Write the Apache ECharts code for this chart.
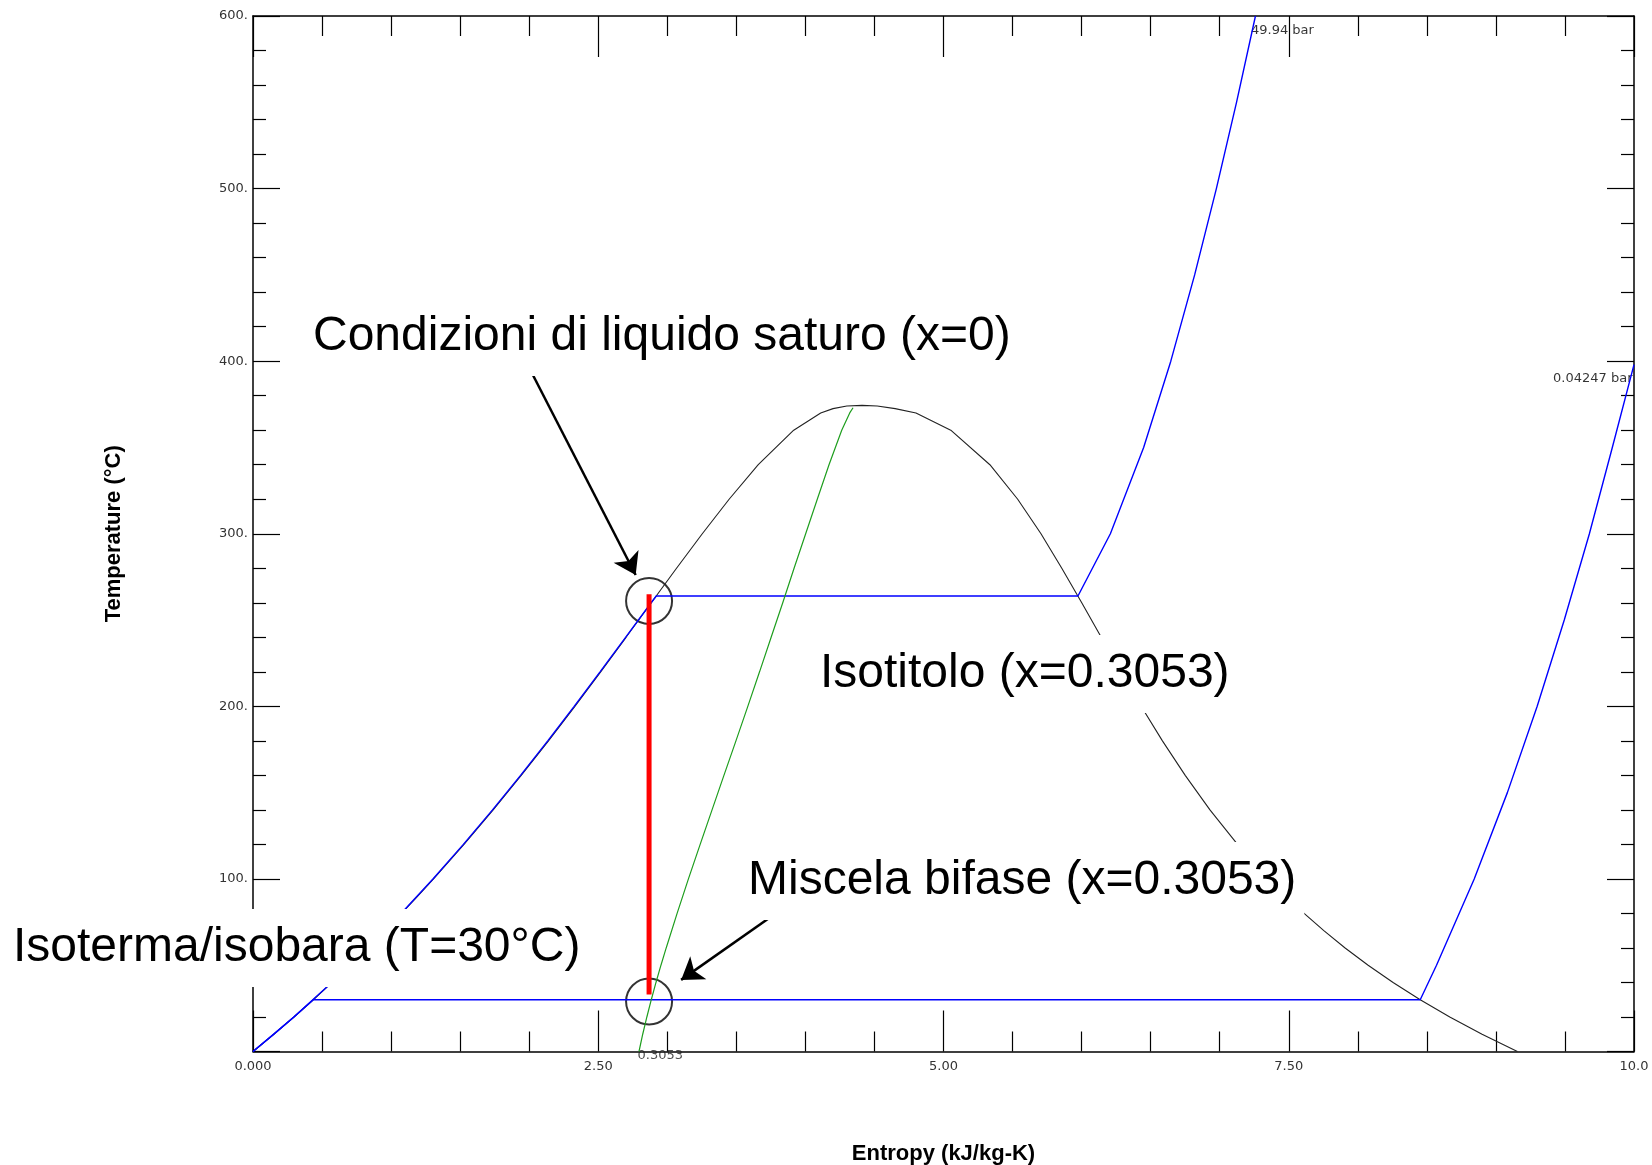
<!DOCTYPE html>
<html>
<head>
<meta charset="utf-8">
<title>Diagramma T-s acqua</title>
<script src="https://cdn.jsdelivr.net/npm/echarts@6/dist/echarts.min.js"></script>
<style>
  html, body { margin: 0; padding: 0; background: #fff; }
  #chart { width: 1652px; height: 1165px; }
</style>
</head>
<body>
<div id="chart"></div>
<script>
// curva limite: liquido saturo -> punto critico -> vapore saturo
var domeS = [0, 0.1511, 0.2965, 0.4368, 0.5724, 0.7038, 0.8313, 0.9551, 1.0756, 1.1929, 1.3072, 1.5279, 1.7392, 1.9421, 2.1397, 2.3308, 2.5175, 2.7013, 2.8838, 3.0668, 3.2534, 3.4476, 3.6587, 3.9153, 4.1108, 4.20, 4.30, 4.41, 4.52, 4.65, 4.8007, 5.0526, 5.3359, 5.5373, 5.7059, 5.8565, 6.0010, 6.1423, 6.2847, 6.4312, 6.5853, 6.7503, 6.9294, 7.1291, 7.3541, 7.4781, 7.6111, 7.7540, 7.9081, 8.0748, 8.2555, 8.4520, 8.6660, 8.8998, 9.1555];
var domeT = [0, 10, 20, 30, 40, 50, 60, 70, 80, 90, 100, 120, 140, 160, 180, 200, 220, 240, 260, 280, 300, 320, 340, 360, 370, 372.5, 374, 374.4, 374, 372.5, 370, 360, 340, 320, 300, 280, 260, 240, 220, 200, 180, 160, 140, 120, 100, 90, 80, 70, 60, 50, 40, 30, 20, 10, 0];

// isobara 49.94 bar
var hiPS = [0, 0.2956, 0.5705, 0.8287, 1.0723, 1.3030, 1.5233, 1.7343, 1.9375, 2.1341, 2.3255, 2.5128, 2.6979, 2.8830, 2.9202, 5.9737, 6.2084, 6.4493, 6.6459, 6.8186, 6.9759, 7.1218, 7.2589];
var hiPT = [0, 20, 40, 60, 80, 100, 120, 140, 160, 180, 200, 220, 240, 260, 263.94, 263.94, 300, 350, 400, 450, 500, 550, 600];

// isobara 0.04247 bar (T = 30 C)
var loPS = [0, 0.1511, 0.2965, 0.4368, 8.4520, 8.570, 8.843, 9.083, 9.299, 9.495, 9.677, 9.843, 10.0];
var loPT = [0, 10, 20, 30, 30, 50, 100, 150, 200, 250, 300, 350, 398];

// isotitolo x = 0.3053
var qualS = [2.795, 2.822, 2.852, 2.884, 2.918, 2.954, 2.992, 3.071, 3.153, 3.238, 3.324, 3.410, 3.497, 3.583, 3.668, 3.752, 3.836, 3.918, 4.002, 4.086, 4.171, 4.263, 4.321, 4.345];
var qualT = [0, 10, 20, 30, 40, 50, 60, 80, 100, 120, 140, 160, 180, 200, 220, 240, 260, 280, 300, 320, 340, 360, 370, 373];

// espansione isoentropica
var expS = [2.868, 2.868];
var expT = [33, 265];

// cerchi sui due stati
var stateS = [2.868, 2.868];
var stateT = [261, 29];

// frecce [s0, T0, s1, T1]
var arrows = [
  [1.997, 396.6, 2.771, 276.1],
  [3.774, 79.4, 3.10, 41.5]
];

var xTickLabels = ['0.000', '2.50', '5.00', '7.50', '10.0'];
var yTickLabels = ['', '100.', '200.', '300.', '400.', '500.', '600.'];

function xy(xs, ys) {
  var out = [];
  for (var i = 0; i < xs.length; i++) out.push([xs[i], ys[i]]);
  return out;
}

var chart = echarts.init(document.getElementById('chart'));

var fam = '"Liberation Sans", Arial, sans-serif';
var smallFam = '"DejaVu Sans", sans-serif';
var bigFont = '48px ' + fam;

function xAxisCfg(pos) {
  return {
    type: 'value', position: pos, min: 0, max: 10, interval: 2.5,
    axisLine: { show: true, onZero: false, lineStyle: { color: '#000', width: 1.5 } },
    axisTick: { show: true, inside: true, length: 41, lineStyle: { color: '#000', width: 1.2 } },
    minorTick: { show: true, splitNumber: 5, length: 20, lineStyle: { color: '#000', width: 1.2 } },
    axisLabel: {
      show: pos === 'bottom', margin: 9, fontSize: 13, fontFamily: smallFam, color: '#333',
      formatter: function (v) { return xTickLabels[Math.round(v / 2.5)]; }
    },
    splitLine: { show: false }
  };
}

function yAxisCfg(pos) {
  return {
    type: 'value', position: pos, min: 0, max: 600, interval: 100,
    axisLine: { show: true, onZero: false, lineStyle: { color: '#000', width: 1.5 } },
    axisTick: { show: true, inside: true, length: 27, lineStyle: { color: '#000', width: 1.2 } },
    minorTick: { show: true, splitNumber: 5, length: 13, lineStyle: { color: '#000', width: 1.2 } },
    axisLabel: {
      show: pos === 'left', margin: 5, fontSize: 13, fontFamily: smallFam, color: '#333',
      formatter: function (v) { return yTickLabels[Math.round(v / 100)]; }
    },
    splitLine: { show: false }
  };
}

function textBox(text, x, y) {
  return {
    type: 'text', x: x, y: y, z: 100,
    style: {
      text: text, font: bigFont, fill: '#000', align: 'left', verticalAlign: 'middle',
      backgroundColor: '#fff', padding: [16, 8, 14, 8]
    }
  };
}

var xBottom = xAxisCfg('bottom');
xBottom.name = 'Entropy (kJ/kg-K)';
xBottom.nameLocation = 'middle';
xBottom.nameGap = 91;
xBottom.nameTextStyle = { fontFamily: fam, fontSize: 22, fontWeight: 'bold', color: '#000' };

var yLeft = yAxisCfg('left');
yLeft.name = 'Temperature (°C)';
yLeft.nameLocation = 'middle';
yLeft.nameRotate = 90;
yLeft.nameGap = 128;
yLeft.nameTextStyle = { fontFamily: fam, fontSize: 22, fontWeight: 'bold', color: '#000' };

var hiEnd = [hiPS[hiPS.length - 1], hiPT[hiPT.length - 1]];
var loEnd = [loPS[loPS.length - 1], loPT[loPT.length - 1]];
var qualStart = [qualS[0], qualT[0]];

var option = {
  animation: false,
  backgroundColor: '#fff',
  grid: { left: 253, right: 18, top: 16, bottom: 113.5, outerBoundsMode: 'none' },
  xAxis: [xBottom, xAxisCfg('top')],
  yAxis: [yLeft, yAxisCfg('right')],
  series: [
    {
      name: 'curva limite', type: 'line', data: xy(domeS, domeT),
      symbol: 'none', lineStyle: { color: '#222', width: 1.1 }, silent: true
    },
    {
      name: '49.94 bar', type: 'line', data: xy(hiPS, hiPT),
      symbol: 'none', lineStyle: { color: '#0000ff', width: 1.4 }, silent: true
    },
    {
      name: '0.04247 bar', type: 'line', data: xy(loPS, loPT),
      symbol: 'none', lineStyle: { color: '#0000ff', width: 1.4 }, silent: true
    },
    {
      name: 'x=0.3053', type: 'line', data: xy(qualS, qualT),
      symbol: 'none', lineStyle: { color: '#1e9e1e', width: 1.2 }, silent: true
    },
    {
      name: 'espansione', type: 'line', data: xy(expS, expT),
      symbol: 'none', lineStyle: { color: '#ff0000', width: 5 }, silent: true,
      markLine: {
        silent: true,
        symbol: ['none', 'arrow'],
        symbolSize: 21,
        label: { show: false },
        lineStyle: { color: '#000', width: 2.5, type: 'solid' },
        data: arrows.map(function (a) {
          return [{ coord: [a[0], a[1]] }, { coord: [a[2], a[3]] }];
        })
      }
    },
    {
      name: 'stati', type: 'scatter', data: xy(stateS, stateT),
      symbol: 'circle', symbolSize: 46, clip: false, silent: true,
      itemStyle: { color: 'rgba(0,0,0,0)', borderColor: '#000', borderWidth: 2 }
    },
    {
      name: 'etichette', type: 'scatter', symbolSize: 1, clip: false, silent: true,
      itemStyle: { color: 'rgba(0,0,0,0)' },
      data: [
        { value: hiEnd, label: { show: true, formatter: '49.94 bar', position: [-4, 9], align: 'left', verticalAlign: 'top', fontSize: 13, fontFamily: smallFam, color: '#000' } },
        { value: loEnd, label: { show: true, formatter: '0.04247 bar', position: [-1, 8], align: 'right', verticalAlign: 'top', fontSize: 13, fontFamily: smallFam, color: '#000' } },
        { value: qualStart, label: { show: true, formatter: '0.3053', position: [-1, -2], align: 'left', verticalAlign: 'top', fontSize: 13, fontFamily: smallFam, color: '#222' } }
      ]
    }
  ],
  graphic: [
    textBox('Condizioni di liquido saturo (x=0)', 305, 337),
    textBox('Isotitolo (x=0.3053)', 812, 674),
    textBox('Miscela bifase (x=0.3053)', 740, 881),
    textBox('Isoterma/isobara (T=30°C)', 5, 948)
  ]
};

chart.setOption(option);
</script>
</body>
</html>
